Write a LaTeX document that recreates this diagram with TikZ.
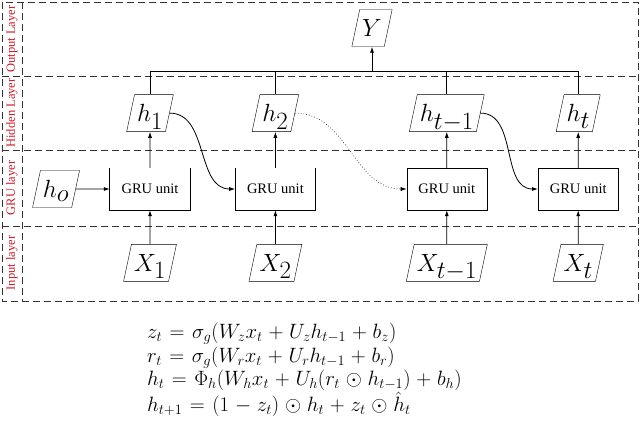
\documentclass[tikz,border=0pt]{standalone}
\usepackage{fontspec}
\setmainfont{Liberation Serif}
\usetikzlibrary{positioning, shapes.geometric, arrows.meta}

\definecolor{labelred}{RGB}{205,25,40}
\medmuskip=5mu plus 2mu minus 2mu
\thickmuskip=6.5mu plus 2mu

\begin{document}
\begin{tikzpicture}[x=1pt, y=-1pt, node distance=34pt,
    frame/.style={dash pattern=on 7pt off 4pt, line width=0.9pt, black!80},
    var/.style={draw, trapezium, trapezium left angle=78, trapezium right angle=102,
        text height=24pt, text depth=7pt, inner xsep=2.5pt, inner ysep=3pt,
        font=\fontsize{33}{38}\selectfont},
    unit/.style={minimum width=80pt, minimum height=42pt, font=\fontsize{14.5}{17}\selectfont},
    layer/.style={rotate=90, text=labelred, font=\fontsize{12.5}{14}\selectfont},
    link/.style={-{Latex[length=6pt,width=4pt]}, line width=0.8pt}]
    \useasboundingbox (0,0) rectangle (640,421);

    % layer frame
    \draw[frame] (2,2) rectangle (638,301);
    \draw[frame] (22,2) -- (22,301);
    \foreach \y in {76,150,226}
        \draw[frame] (2,\y) -- (638,\y);
    \node[layer] (out label) at (12,39)  {Output Layer};
    \node[layer] (hid label) at (12,113) {Hidden Layer};
    \node[layer] (gru label) at (12,188) {GRU layer};
    \node[layer] (in label)  at (12,263) {Input layer};

    % GRU layer
    \node[unit]                              (GRU 1)   at (150,189) {GRU unit};
    \node[unit, right=45pt of GRU 1]         (GRU 2)   {GRU unit};
    \node[unit, draw, right=91pt of GRU 2]   (GRU t-1) {GRU unit};
    \node[unit, draw, right=51pt of GRU t-1] (GRU t)   {GRU unit};
    \draw[line width=0.8pt] (GRU 1.north west) -- (GRU 1.south west) -- (GRU 1.south east) -- (GRU 1.north east);
    \draw[line width=0.8pt] (GRU 2.north west) -- (GRU 2.south west) -- (GRU 2.south east) -- (GRU 2.north east);
    \node[var, left=34pt of GRU 1]     (h o) {$h_o$};

    % hidden layer
    \node[var, above=36pt of GRU 1]    (h 1)   {$h_1$};
    \node[var, above=36pt of GRU 2]    (h 2)   {$h_2$};
    \node[var, above=36pt of GRU t-1]  (h t-1) {$h_{t-1}$};
    \node[var, above=36pt of GRU t]    (h t)   {$h_t$};

    % input layer
    \node[var, below=34pt of GRU 1]    (X 1)   {$X_1$};
    \node[var, below=34pt of GRU 2]    (X 2)   {$X_2$};
    \node[var, below=34pt of GRU t-1]  (X t-1) {$X_{t-1}$};
    \node[var, below=34pt of GRU t]    (X t)   {$X_t$};

    % output layer
    \node[var] (Y) at (372,28) {$Y$};
    \coordinate (bus) at (372,71);

    \foreach \i in {1,2,t-1,t} {
        \draw[link] (X \i) -- (GRU \i);
        \draw[link] (GRU \i) -- (h \i);
        \draw[line width=0.8pt] (h \i.north) -- (h \i.north |- bus);
    }
    \draw[line width=0.8pt] (h 1.north |- bus) -- (h t.north |- bus);
    \draw[link] (bus) -- (Y);

    \draw[link] (h o) -- (GRU 1);
    \draw[link] (h 1.east) to[out=0, in=180] (GRU 2.west);
    \draw[link, dotted, line width=0.5pt] (h 2.east) to[out=0, in=180] (GRU t-1.west);
    \draw[link] (h t-1.east) to[out=0, in=180] (GRU t.west);

    % equations
    \node[anchor=north west, inner sep=0pt, align=left, font=\fontsize{19.5}{23.5}\selectfont] (eqs) at (147,323)
        {$z_t = \sigma_g(W_z x_t + U_z h_{t-1} + b_z)$\\
         $r_t = \sigma_g(W_r x_t + U_r h_{t-1} + b_r)$\\
         $h_t = \Phi_h(W_h x_t + U_h(r_t \odot h_{t-1}) + b_h)$\\
         $h_{t+1} = (1 - z_t) \odot h_t + z_t \odot \hat{h}_t$};
\end{tikzpicture}
\end{document}
